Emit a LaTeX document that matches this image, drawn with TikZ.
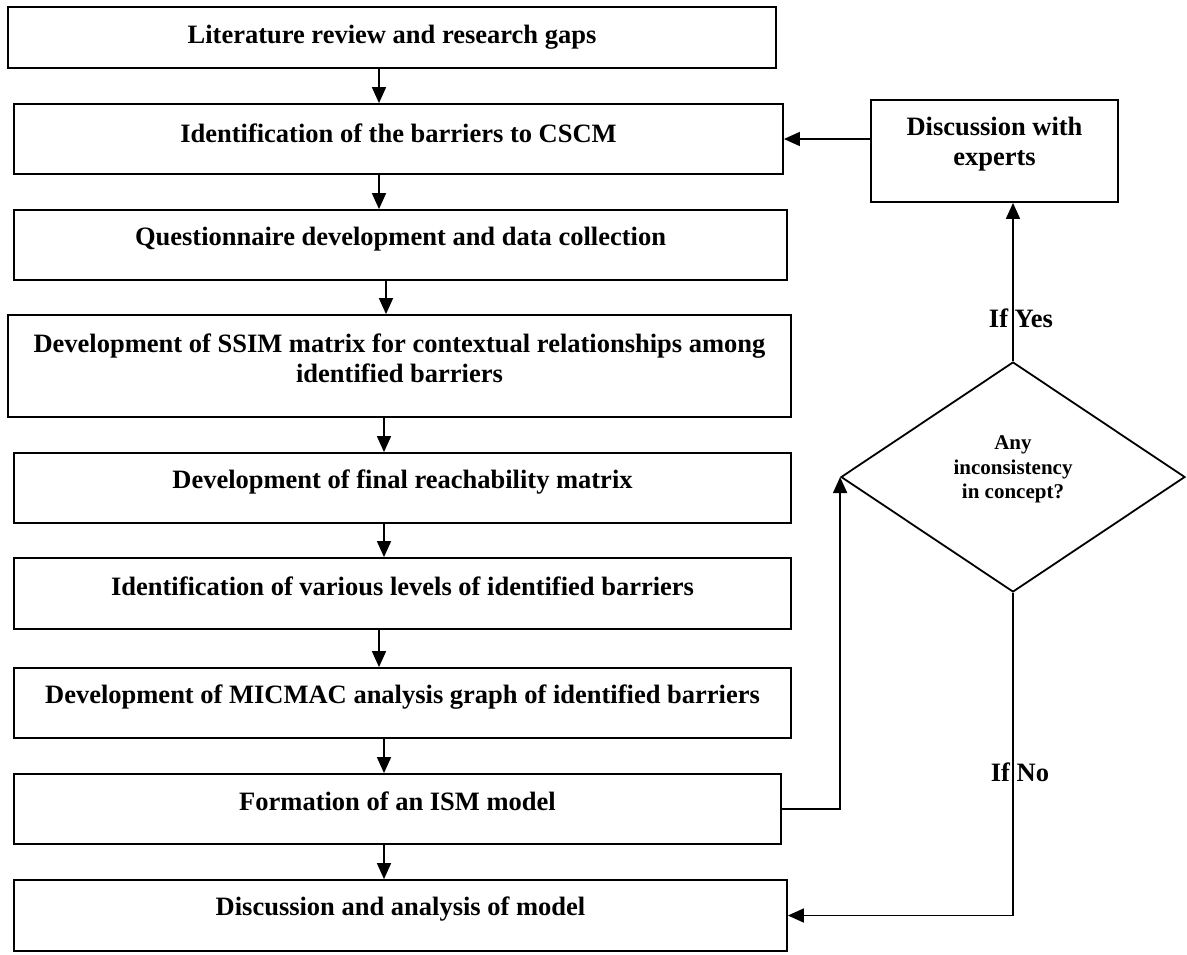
\documentclass[tikz,border=0pt]{standalone}
\usepackage{fontspec}
\setmainfont{Liberation Serif}
\usetikzlibrary{arrows.meta,shapes.geometric}
\tikzset{
  box/.style={draw=black, line width=1.8pt, rectangle, inner sep=0pt},
  txt/.style={font=\fontsize{26.5}{30}\selectfont\bfseries, inner sep=0pt, align=center},
  smalltxt/.style={font=\fontsize{21}{24.5}\selectfont\bfseries, inner sep=0pt, align=center},
  arr/.style={line width=1.6pt, -{Triangle[length=16pt,width=14pt]}},
  conn/.style={line width=1.6pt}
}
\begin{document}
\begin{tikzpicture}[x=1pt,y=-1pt]
\useasboundingbox (0,0) rectangle (1187,954);
% main column boxes
\node[box, minimum width=768pt, minimum height=61pt]  (b1) at (392,37.5) {};
\node[box, minimum width=769pt, minimum height=70pt]  (b2) at (398.5,139) {};
\node[box, minimum width=773pt, minimum height=70pt]  (b3) at (400.5,245) {};
\node[box, minimum width=783pt, minimum height=102pt] (b4) at (399.5,366) {};
\node[box, minimum width=777pt, minimum height=70pt]  (b5) at (402.5,488) {};
\node[box, minimum width=777pt, minimum height=71pt]  (b6) at (402.5,593.5) {};
\node[box, minimum width=777pt, minimum height=70pt]  (b7) at (402.5,703) {};
\node[box, minimum width=767pt, minimum height=70pt]  (b8) at (397.5,809) {};
\node[box, minimum width=773pt, minimum height=71pt]  (b9) at (400.5,915.5) {};
% right side
\node[box, minimum width=247pt, minimum height=102pt] (ex) at (994.5,151) {};
\node[draw=black, line width=1.8pt, diamond, minimum width=344pt, minimum height=230pt, inner sep=0pt] (dia) at (1013,477) {};
% texts
\node[txt, anchor=base] (t1) at (392,43) {Literature review and research gaps};
\node[txt, anchor=base] (t2) at (398.5,142) {Identification of the barriers to CSCM};
\node[txt, anchor=base] (t3) at (400.5,245) {Questionnaire development and data collection};
\node[txt] (t4) at (399.5,358) {Development of SSIM matrix for contextual relationships among\\identified barriers};
\node[txt, anchor=base] (t5) at (402.5,488) {Development of final reachability matrix};
\node[txt, anchor=base] (t6) at (402.5,595) {Identification of various levels of identified barriers};
\node[txt, anchor=base] (t7) at (402.5,703) {Development of MICMAC analysis graph of identified barriers};
\node[txt, anchor=base] (t8) at (397.5,810) {Formation of an ISM model};
\node[txt, anchor=base] (t9) at (400.5,915) {Discussion and analysis of model};
\node[txt] (tex) at (994.5,144) {Discussion with\\experts};
\node[smalltxt] (tdia) at (1013,469.5) {Any\\inconsistency\\in concept?};
% arrow x positions
\coordinate (a1) at (379,0);
\coordinate (a2) at (386,0);
\coordinate (a3) at (384,0);
\draw[arr] (b1.south -| a1) -- (b2.north -| a1);
\draw[arr] (b2.south -| a1) -- (b3.north -| a1);
\draw[arr] (b3.south -| a2) -- (b4.north -| a2);
\draw[arr] (b4.south -| a3) -- (b5.north -| a3);
\draw[arr] (b5.south -| a3) -- (b6.north -| a3);
\draw[arr] (b6.south -| a1) -- (b7.north -| a1);
\draw[arr] (b7.south -| a3) -- (b8.north -| a3);
\draw[arr] (b8.south -| a3) -- (b9.north -| a3);
% feedback loop
\draw[arr] (ex.west |- b2.east) -- (b2.east);
\draw[arr] (dia.north) -- (dia.north |- ex.south);
\draw[arr] (b8.east) -- (dia.west |- b8.east) -- (dia.west);
\draw[arr] (dia.south) -- (dia.south |- b9.east) -- (b9.east);
% labels
\node[txt, anchor=base] (ly) at (1021,327) {If Yes};
\node[txt, anchor=base] (ln) at (1020,781) {If No};
\end{tikzpicture}
\end{document}
